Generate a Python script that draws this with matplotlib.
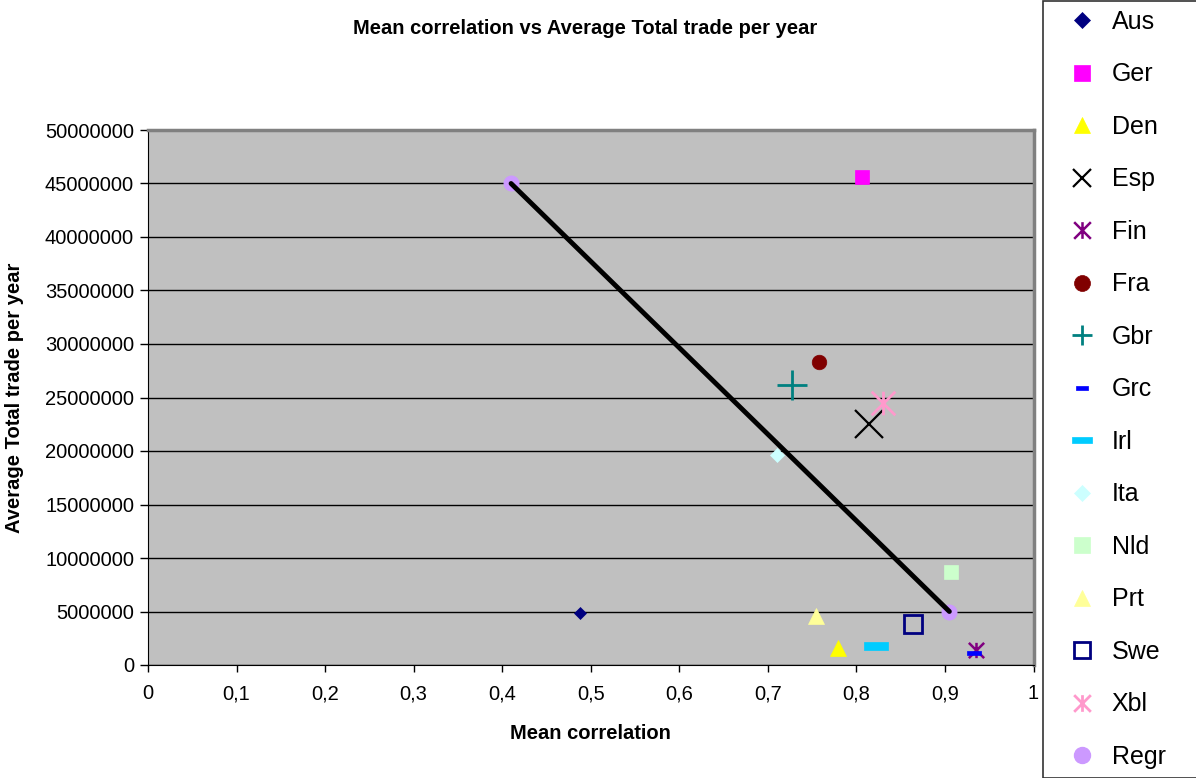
import matplotlib.pyplot as plt
from matplotlib.lines import Line2D
from matplotlib.path import Path
from matplotlib.ticker import MultipleLocator, FuncFormatter

plt.rcParams["font.family"] = ["Liberation Sans", "DejaVu Sans"]

# mean correlation / average total trade per year, one point per country
countries = ["Aus", "Ger", "Den", "Esp", "Fin", "Fra", "Gbr", "Grc",
             "Irl", "Ita", "Nld", "Prt", "Swe", "Xbl"]
mean_corr = [0.488, 0.806, 0.779, 0.814, 0.935, 0.758, 0.727, 0.933,
             0.822, 0.710, 0.907, 0.754, 0.864, 0.830]
avg_trade = [4.9e6, 45.6e6, 1.6e6, 22.5e6, 1.4e6, 28.3e6, 26.2e6, 1.1e6,
             1.8e6, 19.6e6, 8.7e6, 4.6e6, 3.8e6, 24.5e6]

# regression line end points
regr_x = [0.410, 0.905]
regr_y = [45.0e6, 5.0e6]

# excel style markers: vertical bar + cross, and a flat dash
star = Path([(-0.5, -0.5), (0.5, 0.5), (-0.5, 0.5), (0.5, -0.5), (0, -0.5), (0, 0.5)],
            [Path.MOVETO, Path.LINETO, Path.MOVETO, Path.LINETO, Path.MOVETO, Path.LINETO])
dash = Path([(-0.5, -0.15), (0.5, -0.15), (0.5, 0.15), (-0.5, 0.15), (-0.5, -0.15)],
            [Path.MOVETO, Path.LINETO, Path.LINETO, Path.LINETO, Path.CLOSEPOLY])

# marker, face, edge, size, edge width, legend size
style = {
    "Aus": ("D", "#000080", "#000080", 6.5, 0.5, 8),
    "Ger": ("s", "#FF00FF", "#FF00FF", 10.5, 0.5, 11),
    "Den": ("^", "#FFFF00", "#FFFF00", 11, 0.5, 12),
    "Esp": ("x", "none", "#000000", 20, 1.6, 13),
    "Fin": (star, "none", "#800080", 11, 1.8, 12),
    "Fra": ("o", "#800000", "#800000", 10.5, 0.5, 11.5),
    "Gbr": ("+", "none", "#008080", 21.5, 2, 14),
    "Grc": (dash, "#0000FF", "#0000FF", 10, 0.5, 8),
    "Irl": (dash, "#00CCFF", "#00CCFF", 17, 0.5, 14),
    "Ita": ("D", "#CCFFFF", "#CCFFFF", 7.5, 0.5, 8),
    "Nld": ("s", "#CCFFCC", "#CCFFCC", 10.5, 0.5, 11),
    "Prt": ("^", "#FFFF99", "#FFFF99", 11, 0.5, 12),
    "Swe": ("s", "none", "#000080", 13.5, 2, 11),
    "Xbl": (star, "none", "#FF99CC", 17, 2, 12),
}

fig = plt.figure(figsize=(11.96, 7.78), dpi=100)
ax = fig.add_axes([148 / 1196, 1 - 665 / 778, 885.5 / 1196, 535 / 778])
ax.set_facecolor("#C0C0C0")

for c, x, y in zip(countries, mean_corr, avg_trade):
    m, fc, ec, ms, mew, _ = style[c]
    ax.plot([x], [y], linestyle="none", marker=m, markerfacecolor=fc,
            markeredgecolor=ec, markersize=ms, markeredgewidth=mew, zorder=3)

ax.plot(regr_x, regr_y, linestyle="none", marker="o", color="#CC99FF",
        markersize=10.5, zorder=3)
ax.plot(regr_x, regr_y, color="black", linewidth=3.5, solid_capstyle="round", zorder=4)

ax.set_xlim(0, 1)
ax.set_ylim(0, 50000000)
ax.xaxis.set_major_locator(MultipleLocator(0.1))
ax.yaxis.set_major_locator(MultipleLocator(5000000))


def xfmt(v, p):
    if abs(v - round(v)) < 1e-9:
        return f"{int(round(v))}"
    return f"{v:.1f}".replace(".", ",")


ax.xaxis.set_major_formatter(FuncFormatter(xfmt))
ax.yaxis.set_major_formatter(FuncFormatter(lambda v, p: f"{int(round(v))}"))
ax.grid(axis="y", color="black", linewidth=1)
ax.set_axisbelow(True)
ax.tick_params(labelsize=14.5, width=1, direction="out")
ax.tick_params(axis="x", length=5, pad=9)
ax.tick_params(axis="y", length=6, pad=4)
for s in ("left", "bottom"):
    ax.spines[s].set_color("black")
for s in ("top", "right"):
    ax.spines[s].set_color("#808080")
    ax.spines[s].set_linewidth(2.5)

ax.set_xlabel("Mean correlation", fontsize=14.5, fontweight="bold", labelpad=15)
ax.set_ylabel("Average Total trade per year", fontsize=14.5, fontweight="bold", labelpad=15)
fig.text(585 / 1196, 1 - 28 / 778, "Mean correlation vs Average Total trade per year",
         ha="center", va="center", fontsize=14.5, fontweight="bold")

# legend with uniform marker sizes
handles = []
for c in countries:
    m, fc, ec, ms, mew, lsize = style[c]
    handles.append(Line2D([], [], linestyle="none", marker=m, markerfacecolor=fc,
                          markeredgecolor=ec, markersize=lsize,
                          markeredgewidth=max(mew, 1.4) if fc == "none" else mew))
handles.append(Line2D([], [], linestyle="none", marker="o", color="#CC99FF", markersize=11.5))
labels = countries + ["Regr"]

leg = fig.legend(handles, labels, loc="upper left",
                 bbox_to_anchor=(1043 / 1196, 1 - 1 / 778, 200 / 1196, 0.0),
                 mode="expand", fontsize=18, frameon=True, fancybox=False,
                 edgecolor="black", labelspacing=1.14, handlelength=2.4,
                 handletextpad=0.0, borderpad=0.35, borderaxespad=0)
leg.get_frame().set_linewidth(1.2)

fig.savefig("out.png", dpi=100)
